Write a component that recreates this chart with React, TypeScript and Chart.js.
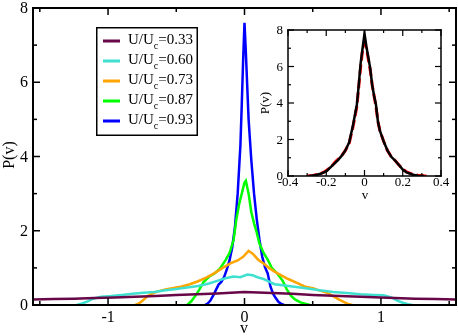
import React, { useEffect, useRef } from "react";
import { Chart, registerables } from "chart.js";
Chart.register(...registerables);

// ---------- data ----------
const seriesLabels = ["0.33", "0.60", "0.73", "0.87", "0.93"];
const seriesColors = ["#670748", "#40e0d0", "#ffa500", "#00ff00", "#0000ff"];

const v033 = [-1.55, -1.4, -1.25, -1.1, -0.95, -0.8, -0.65, -0.5, -0.35, -0.2, -0.1, 0, 0.1, 0.2, 0.35, 0.5, 0.65, 0.8, 0.95, 1.1, 1.25, 1.4, 1.55];
const p033 = [0.15, 0.16, 0.17, 0.19, 0.2, 0.22, 0.24, 0.27, 0.29, 0.31, 0.33, 0.35, 0.34, 0.32, 0.3, 0.27, 0.25, 0.23, 0.21, 0.19, 0.17, 0.16, 0.15];

const v060 = [-1.23, -1.19, -1.15, -1.11, -1.05, -0.98, -0.9, -0.82, -0.74, -0.66, -0.58, -0.5, -0.42, -0.34, -0.26, -0.2, -0.14, -0.08, -0.03, 0.02, 0.06, 0.1, 0.14, 0.18, 0.22, 0.28, 0.35, 0.45, 0.55, 0.65, 0.75, 0.85, 0.95, 1.02, 1.08, 1.12, 1.16, 1.2, 1.23];
const p060 = [0, 0.04, 0.1, 0.17, 0.22, 0.24, 0.27, 0.3, 0.33, 0.35, 0.4, 0.43, 0.47, 0.51, 0.58, 0.65, 0.72, 0.77, 0.75, 0.82, 0.8, 0.74, 0.7, 0.63, 0.56, 0.53, 0.5, 0.45, 0.4, 0.35, 0.32, 0.29, 0.27, 0.26, 0.2, 0.12, 0.06, 0.02, 0];

const v073 = [-0.8, -0.77, -0.74, -0.71, -0.68, -0.64, -0.58, -0.52, -0.46, -0.4, -0.34, -0.28, -0.22, -0.16, -0.1, -0.05, -0.01, 0.03, 0.06, 0.1, 0.14, 0.18, 0.22, 0.27, 0.32, 0.38, 0.44, 0.5, 0.56, 0.61, 0.65, 0.69, 0.73, 0.76, 0.79];
const p073 = [0, 0.05, 0.14, 0.24, 0.3, 0.36, 0.42, 0.46, 0.5, 0.56, 0.64, 0.74, 0.86, 1.0, 1.13, 1.2, 1.3, 1.46, 1.38, 1.22, 1.12, 1.0, 0.9, 0.8, 0.7, 0.6, 0.5, 0.45, 0.38, 0.32, 0.24, 0.15, 0.08, 0.03, 0];

const v087 = [-0.42, -0.39, -0.36, -0.33, -0.3, -0.26, -0.22, -0.18, -0.14, -0.11, -0.08, -0.06, -0.04, -0.02, 0, 0.01, 0.03, 0.05, 0.07, 0.09, 0.11, 0.14, 0.17, 0.2, 0.24, 0.28, 0.31, 0.34, 0.37, 0.41, 0.45, 0.48];
const p087 = [0, 0.1, 0.25, 0.42, 0.62, 0.76, 0.85, 0.98, 1.2, 1.4, 1.75, 2.3, 2.7, 3.0, 3.3, 3.35, 3.0, 2.5, 2.2, 1.95, 1.65, 1.4, 1.22, 1.0, 0.85, 0.65, 0.42, 0.25, 0.15, 0.07, 0.03, 0];

const v093 = [-0.29, -0.27, -0.25, -0.23, -0.21, -0.19, -0.17, -0.15, -0.13, -0.11, -0.09, -0.07, -0.05, -0.03, -0.02, -0.01, 0, 0.01, 0.02, 0.03, 0.05, 0.07, 0.09, 0.11, 0.13, 0.15, 0.17, 0.19, 0.21, 0.23, 0.25, 0.27, 0.29];
const p093 = [0, 0.04, 0.12, 0.25, 0.4, 0.55, 0.62, 0.75, 0.95, 1.2, 1.55, 2.1, 3.0, 4.3, 5.4, 6.6, 7.6, 6.8, 5.9, 5.0, 3.9, 3.0, 2.3, 1.75, 1.3, 1.02, 0.85, 0.5, 0.3, 0.18, 0.08, 0.03, 0];

// inset
const vInsetBlack = [-0.29, -0.26, -0.23, -0.2, -0.17, -0.14, -0.12, -0.1, -0.08, -0.06, -0.04, -0.03, -0.02, -0.01, 0, 0.01, 0.02, 0.03, 0.04, 0.05, 0.06, 0.07, 0.08, 0.1, 0.12, 0.14, 0.16, 0.18, 0.2, 0.22, 0.25, 0.28, 0.31];
const pInsetBlack = [0, 0.04, 0.12, 0.25, 0.55, 0.85, 1.1, 1.4, 1.85, 2.8, 3.9, 5.0, 6.2, 7.0, 7.8, 7.1, 6.5, 5.9, 5.0, 4.4, 3.9, 3.0, 2.5, 1.9, 1.4, 1.05, 0.85, 0.6, 0.35, 0.2, 0.08, 0.02, 0];
const vInsetRed = [-0.3, -0.27, -0.24, -0.21, -0.18, -0.15, -0.12, -0.1, -0.08, -0.06, -0.04, -0.03, -0.02, -0.01, 0, 0.01, 0.02, 0.03, 0.04, 0.05, 0.06, 0.07, 0.08, 0.1, 0.12, 0.14, 0.16, 0.18, 0.2, 0.22, 0.25, 0.28, 0.31, 0.33];
const pInsetRed = [0, 0.03, 0.1, 0.22, 0.45, 0.8, 1.1, 1.4, 1.8, 2.7, 3.8, 4.9, 6.0, 6.9, 7.3, 7.0, 6.4, 5.8, 5.0, 4.4, 3.8, 3.0, 2.5, 1.9, 1.4, 1.05, 0.85, 0.6, 0.38, 0.22, 0.1, 0.04, 0.01, 0];

// ticks
const mainXMajor = [-1, 0, 1];
const mainXMinor = [-1.5, -0.5, 0.5, 1.5];
const mainYMajor = [0, 2, 4, 6, 8];
const mainYMinor = [1, 3, 5, 7];
const insetXMajor = [-0.4, -0.2, 0, 0.2, 0.4];
const insetXMinor = [-0.3, -0.1, 0.1, 0.3];
const insetYMajor = [0, 2, 4, 6, 8];
const insetYMinor = [1, 3, 5, 7];
const insetXLabels = ["-0.4", "-0.2", "0", "0.2", "0.4"];

const FONT = "'Liberation Serif', 'Times New Roman', serif";

const pts = (xs: number[], ys: number[]) => xs.map((x, i) => ({ x, y: ys[i] }));

function makeFramePlugin(o: any) {
  return {
    id: "frameAxes",
    afterDraw(chart: any) {
      const ctx = chart.ctx;
      const a = chart.chartArea;
      const x = chart.scales.x;
      const y = chart.scales.y;
      const L = a.left, T = a.top, R = a.right, B = a.bottom;
      const fw = o.frameW, tw = o.tickW;
      ctx.save();
      ctx.fillStyle = "#000";
      // frame as filled bars
      ctx.fillRect(L - fw / 2, T - fw / 2, R - L + fw, fw);
      ctx.fillRect(L - fw / 2, B - fw / 2, R - L + fw, fw);
      ctx.fillRect(L - fw / 2, T - fw / 2, fw, B - T + fw);
      ctx.fillRect(R - fw / 2, T - fw / 2, fw, B - T + fw);
      const xt = (vals: number[], len: number) => {
        vals.forEach((v) => {
          const p = x.getPixelForValue(v);
          ctx.fillRect(p - tw / 2, B - len, tw, len);
          ctx.fillRect(p - tw / 2, T, tw, len);
        });
      };
      const yt = (vals: number[], len: number) => {
        vals.forEach((v) => {
          const p = y.getPixelForValue(v);
          ctx.fillRect(L, p - tw / 2, len, tw);
          ctx.fillRect(R - len, p - tw / 2, len, tw);
        });
      };
      xt(o.xMajor, o.major); xt(o.xMinor, o.minor);
      yt(o.yMajor, o.major); yt(o.yMinor, o.minor);
      // tick labels
      ctx.font = `${o.labelSize}px ${FONT}`;
      ctx.textAlign = "center";
      ctx.textBaseline = "middle";
      o.xMajor.forEach((v: number, i: number) => {
        ctx.fillText(o.xLabels[i], x.getPixelForValue(v), B + o.xLabelOff);
      });
      ctx.textAlign = "right";
      o.yMajor.forEach((v: number) => {
        ctx.fillText(String(v), L - o.yLabelOff, y.getPixelForValue(v) + 1);
      });
      // axis titles
      ctx.font = `${o.titleSize}px ${FONT}`;
      ctx.textAlign = "center";
      ctx.fillText("v", o.xTitle[0], o.xTitle[1]);
      ctx.translate(o.yTitle[0], o.yTitle[1]);
      ctx.rotate(-Math.PI / 2);
      ctx.fillText("P(v)", 0, 0);
      ctx.restore();
    },
  };
}

const legendPlugin = {
  id: "customLegend",
  afterDraw(chart: any) {
    const ctx = chart.ctx;
    ctx.save();
    ctx.fillStyle = "#000";
    ctx.fillRect(96, 27, 102, 109);
    ctx.fillStyle = "#fff";
    ctx.fillRect(97.5, 28.5, 99, 106);
    chart.data.datasets.forEach((ds: any, i: number) => {
      const yy = 41 + i * 20;
      ctx.fillStyle = ds.borderColor;
      ctx.fillRect(103, yy - 1.5, 17, 3);
      ctx.fillStyle = "#000";
      ctx.textAlign = "left";
      ctx.textBaseline = "alphabetic";
      let xx = 128;
      ctx.font = `15px ${FONT}`;
      ctx.fillText("U/U", xx, yy + 2.5);
      xx += ctx.measureText("U/U").width;
      ctx.font = `10px ${FONT}`;
      ctx.fillText("c", xx, yy + 8);
      xx += ctx.measureText("c").width;
      ctx.font = `15px ${FONT}`;
      ctx.fillText("=" + seriesLabels[i], xx, yy + 2.5);
    });
    ctx.restore();
  },
};

const hiddenScale = (min: number, max: number, horizontal: boolean) => ({
  type: "linear" as const,
  min,
  max,
  grid: { display: false, drawTicks: false },
  border: { display: false },
  ticks: { display: false },
  afterFit: (s: any) => { if (horizontal) s.height = 0; else s.width = 0; },
});

export default function App() {
  const mainRef = useRef<HTMLCanvasElement>(null);
  const insetRef = useRef<HTMLCanvasElement>(null);

  useEffect(() => {
    document.body.style.margin = "0";
    const mainSeries = [
      pts(v033, p033), pts(v060, p060), pts(v073, p073), pts(v087, p087), pts(v093, p093),
    ];
    const main = new Chart(mainRef.current!, {
      type: "line",
      data: {
        datasets: mainSeries.map((d, i) => ({
          label: "U/Uc=" + seriesLabels[i],
          data: d,
          borderColor: seriesColors[i],
          borderWidth: 2.5,
          pointRadius: 0,
          tension: 0,
          fill: false,
        })),
      },
      options: {
        responsive: false,
        animation: false,
        layout: { padding: { left: 33, top: 8, right: 2, bottom: 31 } },
        plugins: { legend: { display: false }, tooltip: { enabled: false } },
        scales: {
          x: hiddenScale(-1.55, 1.55, true),
          y: hiddenScale(0, 8, false),
        },
      },
      plugins: [
        makeFramePlugin({
          frameW: 2, tickW: 1.5, major: 7, minor: 4,
          xMajor: mainXMajor, xMinor: mainXMinor, yMajor: mainYMajor, yMinor: mainYMinor,
          xLabels: mainXMajor.map(String), labelSize: 16, xLabelOff: 13, yLabelOff: 5,
          titleSize: 16, xTitle: [244, 329], yTitle: [10, 155],
        }),
        legendPlugin,
      ],
    });

    const inset = new Chart(insetRef.current!, {
      type: "line",
      data: {
        datasets: [
          { label: "black", data: pts(vInsetBlack, pInsetBlack), borderColor: "#000", borderWidth: 2.5, pointRadius: 0, tension: 0, fill: false },
          { label: "red", data: pts(vInsetRed, pInsetRed), borderColor: "#ff0000", borderWidth: 3, borderDash: [10, 4], pointRadius: 0, tension: 0, fill: false },
        ],
      },
      options: {
        responsive: false,
        animation: false,
        layout: { padding: { left: 48, top: 14, right: 17, bottom: 34 } },
        plugins: { legend: { display: false }, tooltip: { enabled: false } },
        scales: {
          x: hiddenScale(-0.4, 0.4, true),
          y: hiddenScale(0, 8, false),
        },
      },
      plugins: [
        makeFramePlugin({
          frameW: 1.5, tickW: 1.2, major: 6, minor: 3,
          xMajor: insetXMajor, xMinor: insetXMinor, yMajor: insetYMajor, yMinor: insetYMinor,
          xLabels: insetXLabels, labelSize: 13, xLabelOff: 7, yLabelOff: 5,
          titleSize: 13, xTitle: [125, 180], yTitle: [26, 87],
        }),
      ],
    });

    return () => { main.destroy(); inset.destroy(); };
  }, []);

  return (
    <div style={{ position: "relative", width: 458, height: 336 }}>
      <canvas ref={mainRef} width={458} height={336} style={{ position: "absolute", left: 0, top: 0 }} />
      <canvas ref={insetRef} width={218} height={194} style={{ position: "absolute", left: 240, top: 16 }} />
    </div>
  );
}
